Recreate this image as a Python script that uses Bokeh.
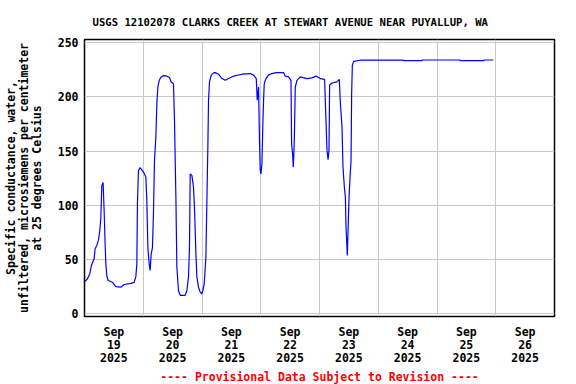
import pandas as pd
from bokeh.plotting import figure
from bokeh.models import FixedTicker, Range1d, Title
from bokeh.embed import file_html
from bokeh.resources import INLINE

title_text = "USGS 12102078 CLARKS CREEK AT STEWART AVENUE NEAR PUYALLUP, WA"
y_label = "Specific conductance, water,\nunfiltered, microsiemens per centimeter\nat 25 degrees Celsius"
footer_text = "---- Provisional Data Subject to Revision ----"

times = [
    "2025-09-19 00:07", "2025-09-19 01:11", "2025-09-19 02:10", "2025-09-19 02:49",
    "2025-09-19 03:56", "2025-09-19 04:20", "2025-09-19 05:02", "2025-09-19 05:41",
    "2025-09-19 06:16", "2025-09-19 06:40", "2025-09-19 07:04", "2025-09-19 07:36",
    "2025-09-19 08:01", "2025-09-19 08:25", "2025-09-19 08:43", "2025-09-19 09:07",
    "2025-09-19 09:39", "2025-09-19 11:25", "2025-09-19 12:48", "2025-09-19 14:50",
    "2025-09-19 16:11", "2025-09-19 18:56", "2025-09-19 20:17", "2025-09-19 20:58",
    "2025-09-19 21:23", "2025-09-19 21:38", "2025-09-19 22:02", "2025-09-19 22:44",
    "2025-09-20 00:05", "2025-09-20 01:04", "2025-09-20 01:28", "2025-09-20 01:53",
    "2025-09-20 02:25", "2025-09-20 02:49", "2025-09-20 03:14", "2025-09-20 03:46",
    "2025-09-20 04:10", "2025-09-20 04:35", "2025-09-20 05:09", "2025-09-20 05:34",
    "2025-09-20 05:58", "2025-09-20 06:30", "2025-09-20 07:12", "2025-09-20 08:16",
    "2025-09-20 09:39", "2025-09-20 10:43", "2025-09-20 11:25", "2025-09-20 12:21",
    "2025-09-20 12:46", "2025-09-20 13:20", "2025-09-20 13:44", "2025-09-20 14:23",
    "2025-09-20 15:05", "2025-09-20 17:08", "2025-09-20 17:50", "2025-09-20 18:29",
    "2025-09-20 18:53", "2025-09-20 19:11", "2025-09-20 19:52", "2025-09-20 20:31",
    "2025-09-20 20:56", "2025-09-20 21:31", "2025-09-20 21:55", "2025-09-20 22:34",
    "2025-09-20 23:16", "2025-09-20 23:58", "2025-09-21 00:22", "2025-09-21 00:54",
    "2025-09-21 01:35", "2025-09-21 02:00", "2025-09-21 02:25", "2025-09-21 02:40",
    "2025-09-21 03:04", "2025-09-21 03:46", "2025-09-21 04:42", "2025-09-21 05:24",
    "2025-09-21 06:45", "2025-09-21 08:08", "2025-09-21 09:29", "2025-09-21 10:50",
    "2025-09-21 12:53", "2025-09-21 16:19", "2025-09-21 19:43", "2025-09-21 21:04",
    "2025-09-21 22:10", "2025-09-21 22:34", "2025-09-21 23:06", "2025-09-21 23:31",
    "2025-09-21 23:48", "2025-09-22 00:05", "2025-09-22 00:29", "2025-09-22 00:54",
    "2025-09-22 01:09", "2025-09-22 01:26", "2025-09-22 02:08", "2025-09-22 03:11",
    "2025-09-22 04:35", "2025-09-22 05:56", "2025-09-22 06:37", "2025-09-22 09:19",
    "2025-09-22 10:01", "2025-09-22 11:22", "2025-09-22 12:21", "2025-09-22 12:36",
    "2025-09-22 13:00", "2025-09-22 13:17", "2025-09-22 13:35", "2025-09-22 13:49",
    "2025-09-22 14:06", "2025-09-22 14:48", "2025-09-22 16:09", "2025-09-22 18:53",
    "2025-09-22 20:56", "2025-09-22 22:41", "2025-09-23 00:20", "2025-09-23 02:05",
    "2025-09-23 02:30", "2025-09-23 03:04", "2025-09-23 03:29", "2025-09-23 03:53",
    "2025-09-23 04:08", "2025-09-23 05:06", "2025-09-23 07:09", "2025-09-23 08:06",
    "2025-09-23 08:30", "2025-09-23 09:12", "2025-09-23 09:36", "2025-09-23 10:09",
    "2025-09-23 10:34", "2025-09-23 10:50", "2025-09-23 11:05", "2025-09-23 11:22",
    "2025-09-23 11:40", "2025-09-23 12:04", "2025-09-23 12:29", "2025-09-23 12:53",
    "2025-09-23 13:08", "2025-09-23 13:25", "2025-09-23 13:56", "2025-09-23 16:41",
    "2025-09-24 10:12", "2025-09-24 10:18", "2025-09-24 17:54", "2025-09-24 18:00",
    "2025-09-25 09:18", "2025-09-25 09:24", "2025-09-25 19:06", "2025-09-25 19:12",
    "2025-09-25 23:00",
]

conductance = [
    29.8, 32, 37, 44.5,
    50.7, 60, 63, 67.6,
    77, 88, 118, 121,
    95, 65, 46, 35,
    30.7, 29, 25, 24.5,
    27, 28, 29, 34,
    46, 102, 132, 134.7,
    130.6, 126, 104.5, 61,
    46, 40, 55, 61,
    92, 141, 163, 194,
    209, 215, 218, 219.5,
    219, 217.7, 213.7, 212,
    178, 107.6, 43, 21.5,
    17, 17, 21.5, 34,
    61, 129, 127.6, 117,
    98, 55, 34, 24.5,
    20, 18.5, 21.5, 27.7,
    52, 104.5, 157, 197,
    213.7, 220, 222, 222.3,
    220.8, 216.8, 215.2, 216.8,
    219, 220.8, 221.4, 220,
    216.8, 196.8, 209, 156.8,
    132, 129, 138, 178,
    197, 212, 216.8, 220,
    221.4, 222, 222.3, 222.3,
    219, 218.3, 215.2, 156.8,
    147.6, 135, 150.6, 172,
    209, 215.2, 218.3, 216.8,
    217.4, 219, 216.8, 216.1,
    187.5, 150.6, 142, 150.6,
    210.6, 212.7, 213.7, 216.1,
    195.2, 172, 135, 116.8,
    107.6, 80, 67.6, 53.8,
    76.8, 107.6, 126, 141.4,
    203, 229, 232.7, 233.7,
    233.9, 233.4, 233.4, 233.9,
    233.9, 233.4, 233.4, 233.9,
    233.9,
]

day_labels = ["Sep\n19\n2025", "Sep\n20\n2025", "Sep\n21\n2025", "Sep\n22\n2025",
              "Sep\n23\n2025", "Sep\n24\n2025", "Sep\n25\n2025", "Sep\n26\n2025"]
y_ticks = [0, 50, 100, 150, 200, 250]

start = pd.Timestamp("2025-09-19 00:00")
t = pd.to_datetime(times)
hours = ((t - start) / pd.Timedelta(hours=1)).to_numpy()

n_days = len(day_labels)
label_pos = [24 * i + 12 for i in range(n_days)]
midnights = [24 * i for i in range(1, n_days)]

FONT = "DejaVu Sans Mono"

p = figure(width=576, height=384, output_backend="svg", toolbar_location=None,
           x_range=Range1d(0, 24 * n_days), y_range=Range1d(-2.5, 252.8),
           min_border_left=84, min_border_right=22, min_border_top=39,
           min_border_bottom=68)

p.line(hours, conductance, line_color="#0000ff", line_width=1.2)

p.title.text = title_text
p.title.text_font = FONT
p.title.text_font_style = "bold"
p.title.text_font_size = "10.6px"
p.title.text_color = "black"
p.title.align = "left"
p.title.offset = 8
p.title.standoff = 24

footer = Title(text=footer_text, align="center", text_color="#ff0000",
               text_font=FONT, text_font_style="bold", text_font_size="11.5px",
               standoff=0)
p.add_layout(footer, "below")

p.xaxis.ticker = FixedTicker(ticks=label_pos)
p.xaxis.major_label_overrides = {pos: lab for pos, lab in zip(label_pos, day_labels)}
p.yaxis.ticker = FixedTicker(ticks=y_ticks)
p.yaxis.axis_label = y_label

for ax in (p.xaxis, p.yaxis):
    ax.axis_line_color = None
    ax.major_tick_line_color = None
    ax.minor_tick_line_color = None
    ax.major_tick_out = 0
    ax.major_tick_in = 0
    ax.major_label_text_font = FONT
    ax.major_label_text_font_style = "bold"
    ax.major_label_text_font_size = "11.5px"
    ax.major_label_text_color = "black"
    ax.major_label_text_line_height = 0.93
    ax.axis_label_text_font = FONT
    ax.axis_label_text_font_style = "bold"
    ax.axis_label_text_font_size = "11.5px"
    ax.axis_label_text_color = "black"
    ax.axis_label_text_line_height = 0.93

p.xaxis.major_label_standoff = 8
p.yaxis.major_label_standoff = 6
p.yaxis.axis_label_standoff = 11

p.xgrid.ticker = FixedTicker(ticks=midnights)
p.ygrid.ticker = FixedTicker(ticks=y_ticks)
p.xgrid.grid_line_color = "#c8c8c8"
p.ygrid.grid_line_color = "#c8c8c8"
p.xgrid.grid_line_width = 1
p.ygrid.grid_line_width = 1

p.outline_line_color = "black"
p.outline_line_width = 1.5
p.outline_line_alpha = 1
p.background_fill_color = "white"
p.border_fill_color = "white"

open("out.html", "w").write(file_html(p, INLINE))
